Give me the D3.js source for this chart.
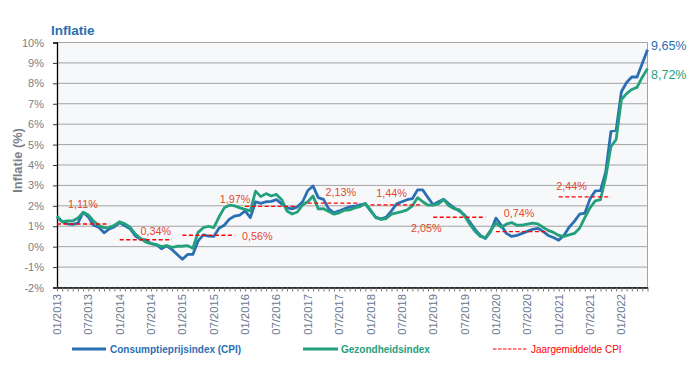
<!DOCTYPE html>
<html><head><meta charset="utf-8">
<script src="https://cdn.jsdelivr.net/npm/d3@7"></script>
<style>
body{margin:0;background:#fff;}
svg{display:block;font-family:"Liberation Sans",Arial,sans-serif;}
</style>
</head><body>
<svg id="chart" width="696" height="374"></svg>
<script>
// ---------- DATA ----------
const startYear = 2013;
const cpi = [
  1.45, 1.22, 1.12, 1.09, 1.15, 1.68, 1.45, 1.05, 0.95, 0.68, 0.87, 0.98,
  1.18, 1.02, 0.88, 0.52, 0.36, 0.33, 0.15, 0.10, -0.10, 0.04, -0.14, -0.38,
  -0.62, -0.38, -0.38, 0.28, 0.58, 0.52, 0.50, 0.90, 1.05, 1.35, 1.50, 1.55,
  1.75, 1.42, 2.20, 2.12, 2.20, 2.22, 2.30, 2.10, 1.90, 1.85, 1.95, 2.20,
  2.75, 2.97, 2.40, 2.32, 1.85, 1.66, 1.75, 1.85, 1.95, 1.98, 2.05, 2.10,
  1.75, 1.45, 1.35, 1.45, 1.75, 2.10, 2.20, 2.30, 2.35, 2.78, 2.78, 2.40,
  2.05, 2.20, 2.32, 2.10, 1.90, 1.75, 1.55, 1.20, 0.85, 0.55, 0.40, 0.75,
  1.40, 1.05, 0.65, 0.50, 0.55, 0.65, 0.75, 0.85, 0.90, 0.75, 0.55, 0.45,
  0.32, 0.55, 0.95, 1.24, 1.59, 1.64, 2.34, 2.73, 2.74, 3.65, 5.64, 5.71,
  7.59, 8.04, 8.31, 8.31, 8.97, 9.65
];
const health = [
  1.50, 1.22, 1.26, 1.26, 1.40, 1.68, 1.55, 1.25, 1.05, 0.93, 0.95, 1.05,
  1.22, 1.12, 0.95, 0.62, 0.40, 0.22, 0.15, 0.10, 0.00, 0.05, -0.03, 0.02,
  0.02, 0.05, -0.08, 0.70, 0.93, 1.00, 0.93, 1.45, 1.90, 2.03, 2.00, 1.90,
  1.83, 1.75, 2.72, 2.45, 2.60, 2.48, 2.56, 2.30, 1.75, 1.60, 1.70, 2.05,
  2.20, 2.48, 1.85, 1.86, 1.72, 1.59, 1.66, 1.78, 1.80, 1.90, 1.96, 2.12,
  1.80, 1.42, 1.34, 1.38, 1.59, 1.66, 1.72, 1.80, 2.00, 2.40, 2.20, 2.03,
  2.03, 2.10, 2.30, 2.00, 1.86, 1.80, 1.50, 1.10, 0.75, 0.50, 0.44, 0.80,
  1.15, 0.95, 1.10, 1.18, 1.05, 1.05, 1.10, 1.15, 1.12, 0.95, 0.80, 0.70,
  0.55, 0.50, 0.58, 0.65, 0.90, 1.42, 1.90, 2.24, 2.30, 3.40, 4.90, 5.25,
  7.20, 7.50, 7.70, 7.80, 8.30, 8.72
];
const avgYears = [2013, 2014, 2015, 2016, 2017, 2018, 2019, 2020, 2021];
const yearAvg = [1.11, 0.34, 0.56, 1.97, 2.13, 2.05, 1.44, 0.74, 2.44];
const avgLabels = ["1,11%", "0,34%", "0,56%", "1,97%", "2,13%", "1,44%", "2,05%", "0,74%", "2,44%"];
const yTicks = [-2, -1, 0, 1, 2, 3, 4, 5, 6, 7, 8, 9, 10];
const xTickLabels = ["01/2013","07/2013","01/2014","07/2014","01/2015","07/2015","01/2016","07/2016",
  "01/2017","07/2017","01/2018","07/2018","01/2019","07/2019","01/2020","07/2020","01/2021","07/2021","01/2022"];
const endLabels = ["9,65%", "8,72%"];
const seriesNames = ["Consumptieprijsindex (CPI)", "Gezondheidsindex", "Jaargemiddelde CPI"];

// ---------- LAYOUT ----------
const colBlue = "#2b6fb3", colGreen = "#23a07c", colRed = "#ff0000", colLbl = "#e2482f";
const L = 57, R = 647.5, T = 42.5, B = 287.5;
const avgLabelOffsets = [[26,-19.5],[36,-9],[75,0.5],[-10,-7],[33,-11],[21,-11.5],[-7,11],[23,-18],[13,-10.5]];

const svg = d3.select("#chart");
const x = d3.scaleLinear().domain([0, cpi.length - 1]).range([L, R]);
const y = d3.scaleLinear().domain([-2, 10]).range([B, T]);
const monthIdx = s => (+s.slice(3) - startYear) * 12 + (+s.slice(0, 2) - 1);

// plot background
svg.append("rect").attr("x", L).attr("y", T).attr("width", R - L).attr("height", B - T).attr("fill", "#f7f8fa");

// gridlines
svg.append("g").selectAll("line").data(yTicks).join("line")
  .attr("x1", L).attr("x2", R).attr("y1", d => y(d)).attr("y2", d => y(d))
  .attr("stroke", "#a3a3a3").attr("stroke-width", 1);
svg.append("line").attr("x1", R).attr("x2", R).attr("y1", T).attr("y2", B).attr("stroke", "#a3a3a3");

// y axis
const ya = svg.append("g").attr("transform", `translate(${L},0)`)
  .call(d3.axisLeft(y).tickValues(yTicks).tickFormat(d => d + "%").tickSize(4).tickPadding(9));
ya.select(".domain").attr("stroke", "#000").attr("stroke-width", 1.3);
ya.selectAll(".tick line").attr("stroke", "#333");
ya.selectAll("text").attr("font-size", 11).attr("fill", "#7b8089").style("font-family", "Liberation Sans, Arial, sans-serif");

// x axis (monthly minor ticks)
const xa = svg.append("g").attr("transform", `translate(0,${B})`)
  .call(d3.axisBottom(x).tickValues(d3.range(cpi.length)).tickFormat("").tickSize(4).tickSizeOuter(0));
xa.select(".domain").attr("stroke", "#000").attr("stroke-width", 1.3);
xa.selectAll(".tick line").attr("stroke", "#777");

// x labels
svg.append("g").selectAll("text").data(xTickLabels).join("text")
  .attr("transform", d => `translate(${x(monthIdx(d))},294) rotate(-90)`)
  .attr("text-anchor", "end").attr("dy", "0.35em")
  .attr("font-size", 11.3).attr("fill", "#6b7891").text(d => d);

// lines
const line = d3.line().x((d, i) => x(i)).y(d => y(d));
svg.append("path").datum(cpi).attr("d", line).attr("fill", "none")
  .attr("stroke", colBlue).attr("stroke-width", 2.8).attr("stroke-linejoin", "round");
svg.append("path").datum(health).attr("d", line).attr("fill", "none")
  .attr("stroke", colGreen).attr("stroke-width", 2.8).attr("stroke-linejoin", "round");

// yearly averages
avgYears.forEach((yr, k) => {
  const i0 = (yr - startYear) * 12;
  const x0 = x(i0), x1 = x(i0 + 10), yy = y(yearAvg[k]);
  svg.append("line").attr("x1", x0).attr("x2", x1).attr("y1", yy).attr("y2", yy)
    .attr("stroke", colRed).attr("stroke-width", 1.3).attr("stroke-dasharray", "4,2.5");
  svg.append("text").attr("x", x0 + avgLabelOffsets[k][0]).attr("y", yy + avgLabelOffsets[k][1])
    .attr("dy", "0.35em").attr("text-anchor", "middle").attr("font-size", 10.8)
    .attr("fill", colLbl).text(avgLabels[k]);
});

// end labels
const nLast = cpi.length - 1;
svg.append("text").attr("x", R + 3.5).attr("y", y(cpi[nLast]) - 4).attr("dy", "0.35em")
  .attr("font-size", 12.5).attr("fill", colBlue).text(endLabels[0]);
svg.append("text").attr("x", R + 3.5).attr("y", y(health[nLast]) + 5.5).attr("dy", "0.35em")
  .attr("font-size", 12.5).attr("fill", colGreen).text(endLabels[1]);

// titles
svg.append("text").attr("x", 51).attr("y", 35).attr("font-size", 13.5).attr("font-weight", "bold")
  .attr("fill", colBlue).text("Inflatie");
svg.append("text").attr("transform", "translate(21.5,160.5) rotate(-90)").attr("text-anchor", "middle")
  .attr("font-size", 12.8).attr("font-weight", "bold").attr("fill", "#7b8089").text("Inflatie (%)");

// legend
const lg = svg.append("g");
const ly = 349;
lg.append("line").attr("x1", 72).attr("x2", 106).attr("y1", ly).attr("y2", ly).attr("stroke", colBlue).attr("stroke-width", 3);
lg.append("text").attr("x", 110).attr("y", ly).attr("dy", "0.35em").attr("font-size", 10).attr("font-weight", "bold")
  .attr("fill", colBlue).text(seriesNames[0]);
lg.append("line").attr("x1", 303).attr("x2", 338).attr("y1", ly).attr("y2", ly).attr("stroke", colGreen).attr("stroke-width", 3);
lg.append("text").attr("x", 341).attr("y", ly).attr("dy", "0.35em").attr("font-size", 10).attr("font-weight", "bold")
  .attr("fill", colGreen).text(seriesNames[1]);
lg.append("line").attr("x1", 493).attr("x2", 528).attr("y1", ly).attr("y2", ly).attr("stroke", colRed).attr("stroke-width", 1.2).attr("stroke-dasharray", "3.5,1.5");
lg.append("text").attr("x", 531).attr("y", ly).attr("dy", "0.35em").attr("font-size", 10)
  .attr("fill", colRed).text(seriesNames[2]);
</script>
</body></html>
